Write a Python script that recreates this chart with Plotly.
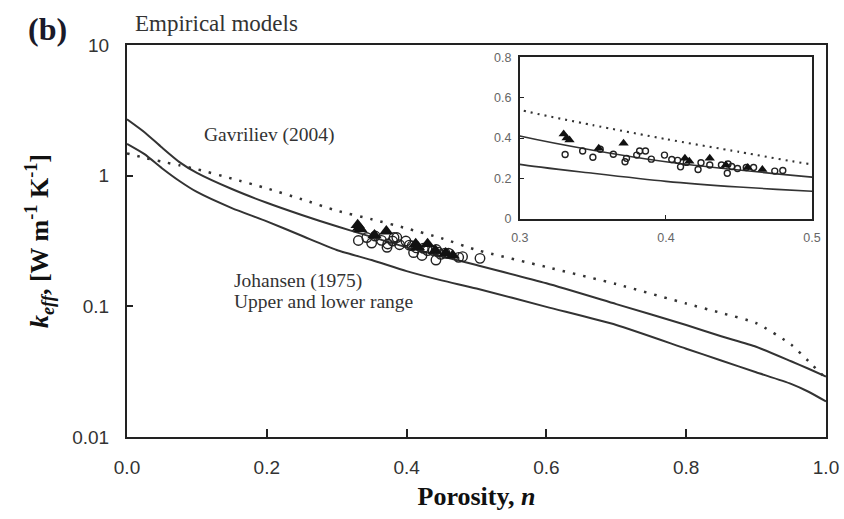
import plotly.graph_objects as go

# Porosity grid for the model curves
porosity = [0.0, 0.025, 0.05, 0.075, 0.1, 0.15, 0.2, 0.25, 0.3, 0.35, 0.4,
            0.45, 0.5, 0.6, 0.7, 0.8, 0.85, 0.9, 0.95, 0.975, 1.0]

# Johansen (1975) upper and lower range, W m-1 K-1
johansen_upper = [2.70, 2.15, 1.64, 1.27, 1.05, 0.79, 0.62, 0.50, 0.41, 0.34, 0.283,
                  0.242, 0.207, 0.150, 0.104, 0.072, 0.059, 0.049, 0.038, 0.0333, 0.029]
johansen_lower = [1.75, 1.46, 1.14, 0.91, 0.75, 0.565, 0.447, 0.347, 0.27, 0.226, 0.186,
                  0.158, 0.137, 0.099, 0.072, 0.0474, 0.0385, 0.0313, 0.0255, 0.0222, 0.0187]

# Gavriliev (2004)
gavriliev = [1.48, 1.37, 1.28, 1.20, 1.12, 0.95, 0.80, 0.66, 0.54, 0.464, 0.395,
             0.332, 0.27, 0.20, 0.148, 0.105, 0.089, 0.0745, 0.051, 0.038, 0.028]

# Measured values (filled triangles)
tri_n = [0.330, 0.332, 0.334, 0.354, 0.371, 0.413, 0.416, 0.430, 0.441, 0.456, 0.466]
tri_k = [0.42, 0.40, 0.39, 0.35, 0.375, 0.30, 0.285, 0.30, 0.267, 0.255, 0.245]

# Measured values (open circles)
circ_n = [0.331, 0.343, 0.350, 0.355, 0.364, 0.372, 0.373, 0.380, 0.382, 0.386,
          0.390, 0.399, 0.404, 0.408, 0.410, 0.414, 0.422, 0.424, 0.430, 0.438,
          0.4425, 0.442, 0.445, 0.449, 0.455, 0.460, 0.4745, 0.480, 0.505]
circ_k = [0.319, 0.336, 0.305, 0.345, 0.32, 0.283, 0.30, 0.316, 0.336, 0.336,
          0.296, 0.316, 0.294, 0.29, 0.258, 0.28, 0.245, 0.278, 0.267, 0.267,
          0.272, 0.226, 0.26, 0.25, 0.255, 0.255, 0.237, 0.24, 0.233]

x_ticks = [0.0, 0.2, 0.4, 0.6, 0.8, 1.0]
y_ticks = [0.01, 0.1, 1, 10]
y_ticklabels = ["0.01", "0.1", "1", "10"]

LINE = "#333333"
AXIS = "#222222"
SERIF = "Liberation Serif, Times New Roman, serif"
SANS = "Liberation Sans, Arial, sans-serif"

fig = go.Figure()


def add_panel(fig, xa, ya, lw, dash, circ_size, tri_size):
    for ys in (johansen_upper, johansen_lower):
        fig.add_trace(go.Scatter(x=porosity, y=ys, mode="lines", xaxis=xa, yaxis=ya,
                                 line=dict(color=LINE, width=lw, shape="spline", smoothing=0.6),
                                 showlegend=False, hoverinfo="skip"))
    fig.add_trace(go.Scatter(x=porosity, y=gavriliev, mode="lines", xaxis=xa, yaxis=ya,
                             line=dict(color=LINE, width=lw + 0.5, dash=dash,
                                       shape="spline", smoothing=0.6),
                             showlegend=False, hoverinfo="skip"))
    fig.add_trace(go.Scatter(x=circ_n, y=circ_k, mode="markers", xaxis=xa, yaxis=ya,
                             marker=dict(symbol="circle-open", size=circ_size, color="#222222",
                                         line=dict(width=1.4)),
                             showlegend=False))
    fig.add_trace(go.Scatter(x=tri_n, y=tri_k, mode="markers", xaxis=xa, yaxis=ya,
                             marker=dict(symbol="triangle-up", size=tri_size, color="#111111"),
                             showlegend=False))


add_panel(fig, "x", "y", 2, "2.5px,8px", 9.5, 12.5)
add_panel(fig, "x2", "y2", 1.6, "2px,5px", 6, 9)

fig.update_layout(
    width=844, height=519,
    margin=dict(l=127, r=18, t=45, b=82),
    paper_bgcolor="white", plot_bgcolor="white",
    xaxis=dict(domain=[0, 1], range=[0, 1], tickvals=x_ticks, tickformat=".1f",
               automargin=False,
               showline=True, mirror=True, linecolor=AXIS, linewidth=2,
               ticks="inside", ticklen=8, tickwidth=1.5, tickcolor=AXIS,
               showgrid=False, zeroline=False,
               tickfont=dict(family=SANS, size=19, color="#333333"),
               ticklabelstandoff=12,
               title=dict(text="<b>Porosity, <i>n</i></b>",
                          font=dict(family=SERIF, size=26, color="#111111"),
                          standoff=10)),
    yaxis=dict(domain=[0, 1], type="log", range=[-2, 1], tickvals=y_ticks,
               ticktext=y_ticklabels, automargin=False,
               showline=True, mirror=True, linecolor=AXIS, linewidth=2,
               ticks="inside", ticklen=6, tickwidth=1.5, tickcolor=AXIS,
               showgrid=False, zeroline=False,
               tickfont=dict(family=SANS, size=19, color="#333333"),
               ticklabelstandoff=12,
               title=dict(text="<b><i>k<sub>eff</sub></i>, [W m<sup>-1</sup> K<sup>-1</sup>]</b>",
                          font=dict(family=SERIF, size=26, color="#111111"),
                          standoff=16)),
    xaxis2=dict(domain=[0.562, 0.980], range=[0.3, 0.5], tickvals=[0.3, 0.4, 0.5],
                anchor="y2", automargin=False,
                showline=True, mirror=True, linecolor=AXIS, linewidth=1.8,
                ticks="inside", ticklen=4, tickwidth=1.2, tickcolor=AXIS,
                showgrid=False, zeroline=False,
                tickfont=dict(family=SANS, size=12.5, color="#666666"),
                ticklabelstandoff=6),
    yaxis2=dict(domain=[0.556, 0.969], range=[0, 0.8], tickvals=[0, 0.2, 0.4, 0.6, 0.8],
                anchor="x2", automargin=False,
                showline=True, mirror=True, linecolor=AXIS, linewidth=1.8,
                ticks="inside", ticklen=4, tickwidth=1.2, tickcolor=AXIS,
                showgrid=False, zeroline=False,
                tickfont=dict(family=SANS, size=12.5, color="#666666"),
                ticklabelstandoff=4),
)

annotations = [
    dict(text="<b>(b)</b>", x=-0.114, y=1.041, font=dict(family=SERIF, size=32, color="#1a1a2a"),
         xanchor="center", yanchor="middle"),
    dict(text="Empirical models", x=0.0086, y=1.054, font=dict(family=SERIF, size=23, color="#333333"),
         xanchor="left", yanchor="middle"),
    dict(text="Gavriliev (2004)", x=0.107, y=0.770, font=dict(family=SERIF, size=19.5, color="#333333"),
         xanchor="left", yanchor="middle"),
    dict(text="Johansen (1975)", x=0.150, y=0.398, font=dict(family=SERIF, size=19.5, color="#333333"),
         xanchor="left", yanchor="middle"),
    dict(text="Upper and lower range", x=0.150, y=0.345, font=dict(family=SERIF, size=19.5, color="#333333"),
         xanchor="left", yanchor="middle"),
]
for a in annotations:
    fig.add_annotation(xref="paper", yref="paper", showarrow=False, **a)

fig.write_html("out.html")
